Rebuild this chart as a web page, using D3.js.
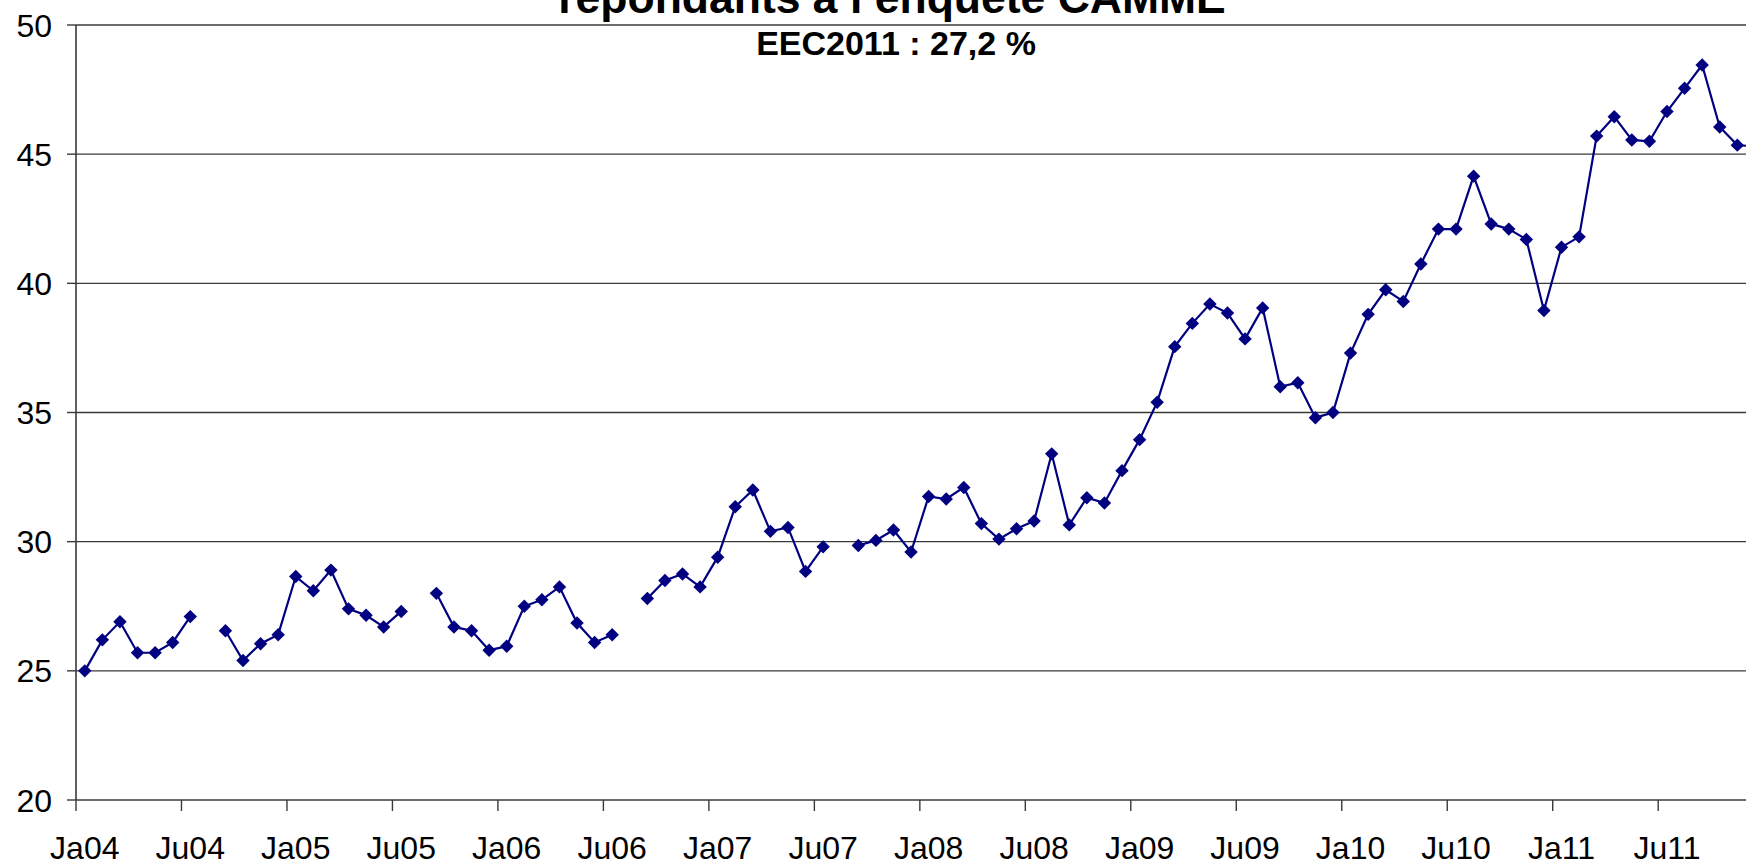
<!DOCTYPE html>
<html>
<head>
<meta charset="utf-8">
<script src="https://cdn.jsdelivr.net/npm/d3@7"></script>
<style>
    html, body { margin: 0; padding: 0; background: #ffffff; overflow: hidden; }
    svg { display: block; font-family: 'Liberation Sans', Arial, sans-serif; }
</style>
</head>
<body>
<script>
// Share (%) by month, Jan..Dec; null = no survey that month
const years = ['04', '05', '06', '07', '08', '09', '10', '11'];
const rate2004 = [25.0, 26.2, 26.9, 25.7, 25.7, 26.1, 27.1, null, 26.55, 25.4, 26.05, 26.4];
const rate2005 = [28.65, 28.1, 28.9, 27.4, 27.15, 26.7, 27.3, null, 28.0, 26.7, 26.55, 25.8];
const rate2006 = [25.95, 27.5, 27.75, 28.25, 26.85, 26.1, 26.4, null, 27.8, 28.5, 28.75, 28.25];
const rate2007 = [29.4, 31.35, 32.0, 30.4, 30.55, 28.85, 29.8, null, 29.85, 30.05, 30.45, 29.6];
const rate2008 = [31.75, 31.65, 32.1, 30.7, 30.1, 30.5, 30.8, 33.4, 30.65, 31.7, 31.5, 32.75];
const rate2009 = [33.95, 35.4, 37.55, 38.45, 39.2, 38.85, 37.85, 39.05, 36.0, 36.15, 34.8, 35.0];
const rate2010 = [37.3, 38.8, 39.75, 39.3, 40.75, 42.1, 42.1, 44.15, 42.3, 42.1, 41.7, 38.95];
const rate2011 = [41.4, 41.8, 45.7, 46.45, 45.55, 45.5, 46.65, 47.55, 48.45, 46.05, 45.35, 45.3];

const xTickLabels = ['Ja04', 'Ju04', 'Ja05', 'Ju05', 'Ja06', 'Ju06', 'Ja07', 'Ju07',
    'Ja08', 'Ju08', 'Ja09', 'Ju09', 'Ja10', 'Ju10', 'Ja11', 'Ju11'];
const yTicks = [20, 25, 30, 35, 40, 45, 50];

const titleText = 'répondants à l\u2019enquête CAMME';
const subtitleText = 'EEC2011 : 27,2 %';

const yearRates = [rate2004, rate2005, rate2006, rate2007, rate2008, rate2009, rate2010, rate2011];
const points = years.flatMap((year, yi) =>
    yearRates[yi].map((value, mi) => ({ id: `${year}-${mi + 1}`, value }))
);

const width = 1746;
const height = 863;
const plotLeft = 76;
const bandWidth = 17.58;
const plotTop = 25;
const plotBottom = 800;
const plotRight = plotLeft + points.length * bandWidth;

const svg = d3.select('body')
    .append('svg')
    .attr('width', width)
    .attr('height', height);

const x = d3.scaleBand()
    .domain(points.map((p) => p.id))
    .range([plotLeft, plotRight])
    .padding(0);

const y = d3.scaleLinear().domain([20, 50]).range([plotBottom, plotTop]);

const xCenter = (id) => x(id) + x.bandwidth() / 2;

// horizontal gridlines
svg.append('g')
    .selectAll('line')
    .data(yTicks.filter((t) => t > 20))
    .join('line')
    .attr('x1', plotLeft)
    .attr('x2', plotRight)
    .attr('y1', (t) => y(t))
    .attr('y2', (t) => y(t))
    .attr('stroke', '#3a3a3a')
    .attr('stroke-width', 1.4);

// y axis
const yAxis = svg.append('g').attr('class', 'y-axis');
yAxis.append('line')
    .attr('x1', plotLeft).attr('x2', plotLeft)
    .attr('y1', plotTop).attr('y2', plotBottom)
    .attr('stroke', '#3a3a3a')
    .attr('stroke-width', 1.6);
yAxis.selectAll('.tick')
    .data(yTicks)
    .join('line')
    .attr('class', 'tick')
    .attr('x1', plotLeft - 9)
    .attr('x2', plotLeft)
    .attr('y1', (t) => y(t))
    .attr('y2', (t) => y(t))
    .attr('stroke', '#3a3a3a')
    .attr('stroke-width', 1.4);
yAxis.selectAll('text')
    .data(yTicks)
    .join('text')
    .attr('x', 52)
    .attr('y', (t) => y(t))
    .attr('dy', '0.36em')
    .attr('text-anchor', 'end')
    .attr('font-size', 32)
    .attr('fill', '#000')
    .text((t) => t);

// x axis
const xAxis = svg.append('g').attr('class', 'x-axis');
xAxis.append('line')
    .attr('x1', plotLeft).attr('x2', plotRight)
    .attr('y1', plotBottom).attr('y2', plotBottom)
    .attr('stroke', '#3a3a3a')
    .attr('stroke-width', 1.6);

const tickIds = points.filter((p, i) => i % 6 === 0).map((p) => p.id);
xAxis.selectAll('.tick')
    .data(tickIds)
    .join('line')
    .attr('class', 'tick')
    .attr('x1', (id) => x(id))
    .attr('x2', (id) => x(id))
    .attr('y1', plotBottom)
    .attr('y2', plotBottom + 11)
    .attr('stroke', '#3a3a3a')
    .attr('stroke-width', 1.4);
xAxis.selectAll('text')
    .data(tickIds.slice(0, xTickLabels.length))
    .join('text')
    .attr('x', (id) => xCenter(id))
    .attr('y', 859)
    .attr('text-anchor', 'middle')
    .attr('font-size', 32)
    .attr('fill', '#000')
    .text((id, i) => xTickLabels[i]);

// series
const line = d3.line()
    .defined((p) => p.value != null)
    .x((p) => xCenter(p.id))
    .y((p) => y(p.value));

svg.append('path')
    .datum(points)
    .attr('fill', 'none')
    .attr('stroke', '#000080')
    .attr('stroke-width', 2.2)
    .attr('d', line);

const marker = d3.symbol(d3.symbolSquare, 90);
svg.append('g')
    .selectAll('path')
    .data(points.filter((p) => p.value != null))
    .join('path')
    .attr('d', marker)
    .attr('transform', (p) => `translate(${xCenter(p.id)},${y(p.value)}) rotate(45)`)
    .attr('fill', '#000080');

// titles (first line cut off at the top like the source)
svg.append('text')
    .attr('x', 892)
    .attr('y', 13)
    .attr('text-anchor', 'middle')
    .attr('font-size', 44.5)
    .attr('font-weight', 'bold')
    .attr('fill', '#000')
    .text(titleText);

svg.append('text')
    .attr('x', 896)
    .attr('y', 55)
    .attr('text-anchor', 'middle')
    .attr('font-size', 34)
    .attr('font-weight', 'bold')
    .attr('fill', '#000')
    .text(subtitleText);
</script>
</body>
</html>
